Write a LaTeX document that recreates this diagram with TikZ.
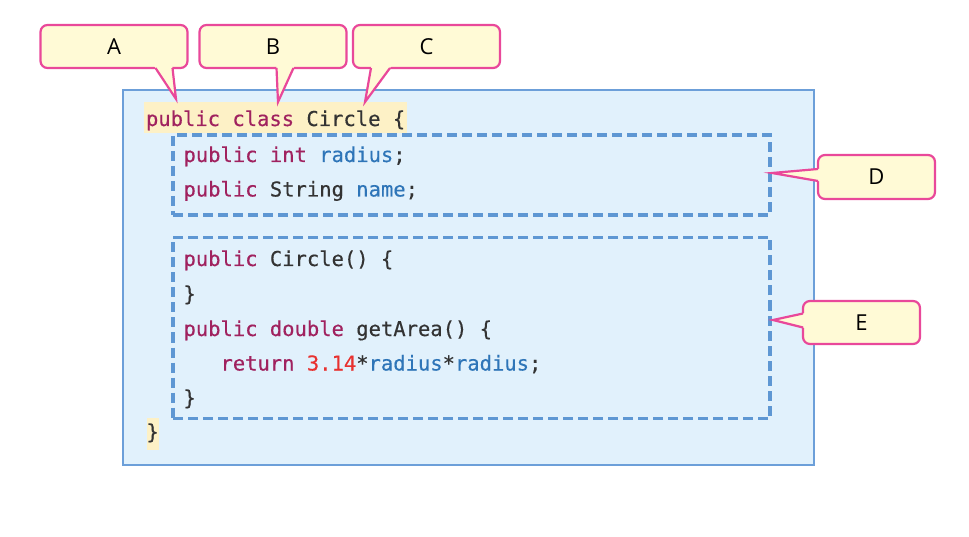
\documentclass[tikz,border=0pt]{standalone}
\usepackage{fontspec}
\setmainfont{Open Sans}
\newfontfamily\codefont{DejaVu Sans Mono}[FakeBold=0.4]
\usetikzlibrary{positioning,calc}
\definecolor{clsfill}{HTML}{E1F1FC}
\definecolor{clsline}{HTML}{6C9FD9}
\definecolor{dashcol}{HTML}{5E97D3}
\definecolor{notefill}{HTML}{FFFAD6}
\definecolor{noteline}{HTML}{E9489A}
\definecolor{hilite}{HTML}{FDF1C6}
\definecolor{kwcol}{HTML}{A0225F}
\definecolor{fldcol}{HTML}{2E75B8}
\definecolor{litcol}{HTML}{E8312F}
\definecolor{txtcol}{HTML}{333333}
\newcommand{\kwd}[1]{\textcolor{kwcol}{#1}}
\newcommand{\fld}[1]{\textcolor{fldcol}{#1}}
\newcommand{\lit}[1]{\textcolor{litcol}{#1}}
% tail of a note: base point, tip, base point
\newcommand{\notetail}[3]{%
\fill[notefill] ($(#1)!-2.5pt!(#2)$) -- (#2) -- ($(#3)!-2.5pt!(#2)$) -- cycle;
\draw[noteline,line width=2.2pt] (#1) -- (#2) -- (#3);}

\begin{document}
\begin{tikzpicture}[x=1pt,y=-1pt,
every node/.style={inner sep=0pt,outer sep=0pt},
codeline/.style={anchor=base west,text=txtcol,font=\codefont\fontsize{20.5}{24}\selectfont},
notebox/.style={draw=noteline,fill=notefill,line width=2.2pt,rounded corners=7pt,
  minimum width=147pt,minimum height=43pt,font=\fontsize{22}{26}\selectfont},
dashbox/.style={draw=dashcol,line width=3.4pt,dash pattern=on 10pt off 5pt,minimum width=597pt}]

\useasboundingbox (0,0) rectangle (969,537);

\node[draw=clsline,fill=clsfill,line width=2.4pt,minimum width=691pt,minimum height=375pt] (cls) at (468.5,277.5) {};

\node[dashbox,minimum height=80pt]  (fields)  at (471.5,175) {};
\node[dashbox,minimum height=181pt] (methods) at (471.5,328) {};

% code
\node[codeline,fill=hilite,inner xsep=2pt,text height=24pt,text depth=7pt] (l1) at (144,126) {\kwd{public} \kwd{class} Circle \{};
\node[codeline] (l2) at (183.5,162)   {\kwd{public} \kwd{int} \fld{radius};};
\node[codeline] (l3) at (183.5,196.5) {\kwd{public} String \fld{name};};
\node[codeline] (l4) at (183.5,266)   {\kwd{public} Circle() \{};
\node[codeline] (l5) at (183.5,301)   {\}};
\node[codeline] (l6) at (183.5,336)   {\kwd{public} \kwd{double} getArea() \{};
\node[codeline] (l7) at (220.5,370.5) {\kwd{return} \lit{3.14}*\fld{radius}*\fld{radius};};
\node[codeline] (l8) at (183.5,405)   {\}};
\node[codeline,fill=hilite,text height=21pt,text depth=11pt] (l9) at (146.5,439) {\}};

% notes
\node[notebox] (A) at (114,46.5)  {A};
\node[notebox] (B) at (273,46.5)  {B};
\node[notebox] (C) at (426.5,46.5) {C};
\node[notebox,minimum width=117pt,minimum height=44pt] (D) at (876.5,177) {D};
\node[notebox,minimum width=117pt] (E) at (861.5,322.5) {E};

\coordinate (tipA) at (176,99);
\coordinate (tipB) at (278,102);
\coordinate (tipC) at (365,102);
\coordinate (tipD) at (772,173);
\coordinate (tipE) at (773,320);

\coordinate (A1) at ($(A.south west)+(115,0)$);
\coordinate (A2) at ($(A.south west)+(132,0)$);
\coordinate (B1) at ($(B.south west)+(77,0)$);
\coordinate (B2) at ($(B.south west)+(94,0)$);
\coordinate (C1) at ($(C.south west)+(18,0)$);
\coordinate (C2) at ($(C.south west)+(37,0)$);
\coordinate (D1) at ($(D.west)+(0,-8)$);
\coordinate (D2) at ($(D.west)+(0,4)$);
\coordinate (E1) at ($(E.west)+(0,-9)$);
\coordinate (E2) at ($(E.west)+(0,5)$);

\notetail{A1}{tipA}{A2}
\notetail{B1}{tipB}{B2}
\notetail{C1}{tipC}{C2}
\notetail{D1}{tipD}{D2}
\notetail{E1}{tipE}{E2}

\end{tikzpicture}
\end{document}
